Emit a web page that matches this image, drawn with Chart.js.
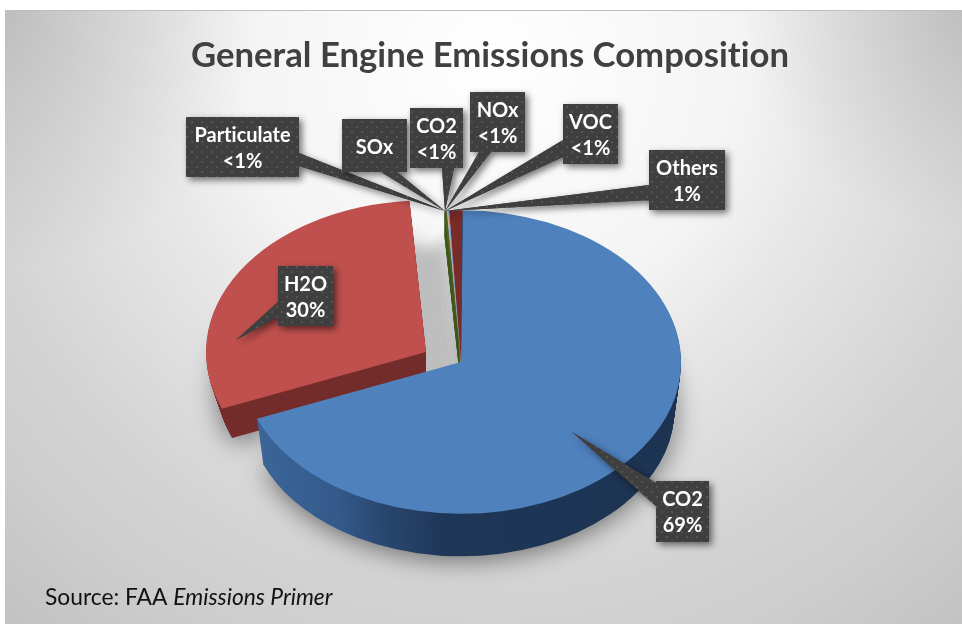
<!DOCTYPE html>
<html>
<head>
<meta charset="utf-8">
<title>General Engine Emissions Composition</title>
<script src="https://cdn.jsdelivr.net/npm/chart.js@4"></script>
<style>
  html, body { margin: 0; padding: 0; background: #fff; }
  canvas { display: block; }
</style>
</head>
<body>
<canvas id="chart" width="962" height="624"></canvas>
<script>
var categories = ['CO2', 'H2O', 'Particulate', 'SOx', 'CO2', 'NOx', 'VOC', 'Others'];
var emissions = [69, 30, 0.15, 0.03, 0.03, 0.05, 0.08, 1];
var shareLabels = ['69%', '30%', '<1%', '', '<1%', '<1%', '<1%', '1%'];
var sliceColors = ['#4f81bd', '#c0504d', '#4f6228', '#8064a2', '#4bacc6', '#f79646', '#5b9bd5', '#772c2a'];
var wallColors = ['#1c3352', '#742d2c', '#3f5a1c', '#4d3b62', '#276a7c', '#b66d31', '#2c4d75', '#5a1f1e'];

// pie placement on the page
var centerX = 461, centerY = 362, tilt = 0.69;
var sliceShift = [[0, 0], [-35, -10], [0, 0], [0, 0], [0, 0], [0, 0], [0, 0], [0, 0]];
var sliceDepth = [47, 32, 26, 0, 0, 0, 0, 0];
var sliceShrink = [0.03, 0.05, 0, 0, 0, 0, 0, 0];
var backSlices = [2, 3, 4, 5, 6, 7];

// callout boxes: x, y, w, h, tail base points and tip
var callouts = [
  { box: [656, 481, 53, 61], tail: [[656, 483], [656, 506], [572, 432]] },
  { box: [278, 266, 55, 60], tail: [[278, 302], [278, 317], [236, 340]] },
  { box: [186, 117, 113, 60], tail: [[299, 153], [299, 166], [445, 211]] },
  { box: [342, 119, 65, 53], tail: [[381, 172], [397, 172], [445, 211]] },
  { box: [410, 108, 53, 60], tail: [[442, 168], [454, 168], [445, 211]] },
  { box: [470, 92, 55, 60], tail: [[479, 152], [491, 152], [445, 211]] },
  { box: [563, 104, 55, 60], tail: [[563, 140], [563, 157], [445, 211]] },
  { box: [649, 150, 76, 60], tail: [[649, 185], [649, 200], [445, 211]] }
];

function cornerShade(ctx, x, y, r, alpha) {
  var g = ctx.createRadialGradient(x, y, 0, x, y, r);
  g.addColorStop(0, 'rgba(0,0,0,' + alpha + ')');
  g.addColorStop(1, 'rgba(0,0,0,0)');
  ctx.fillStyle = g;
  ctx.fillRect(0, 0, 962, 624);
}

function drawBackground(ctx) {
  ctx.save();
  ctx.fillStyle = '#ffffff';
  ctx.fillRect(0, 0, 962, 624);
  ctx.beginPath();
  ctx.rect(5, 10, 957, 614);
  ctx.clip();
  var g = ctx.createRadialGradient(490, 60, 0, 490, 60, 740);
  g.addColorStop(0, '#ffffff');
  g.addColorStop(0.34, '#f4f4f4');
  g.addColorStop(0.47, '#e7e7e7');
  g.addColorStop(0.72, '#d3d3d3');
  g.addColorStop(0.83, '#cecece');
  g.addColorStop(1, '#c2c2c2');
  ctx.fillStyle = g;
  ctx.fillRect(0, 0, 962, 624);
  cornerShade(ctx, 5, 10, 260, 0.12);
  cornerShade(ctx, 962, 10, 220, 0.12);
  ctx.restore();
  ctx.fillStyle = '#bfbfbf';
  ctx.fillRect(5, 10, 957, 1);
}

function drawSlice(ctx, el, i, dy, fill, noShift) {
  var saved = el.options;
  var shift = noShift ? [0, 0] : sliceShift[i];
  var s = 1 - sliceShrink[i] * dy / (sliceDepth[i] || 1);
  ctx.save();
  ctx.translate(centerX + shift[0], centerY + shift[1] + dy);
  ctx.scale(s, tilt * s);
  ctx.translate(-el.x, -el.y);
  el.options = Object.assign({}, saved, { backgroundColor: fill || saved.backgroundColor, borderWidth: 0 });
  el.draw(ctx);
  el.options = saved;
  ctx.restore();
}

function wallFill(ctx, el, i) {
  if (i !== 0) return wallColors[i];
  var g = ctx.createLinearGradient(el.x - 210, 0, el.x + 220, 0);
  g.addColorStop(0, '#3c6699');
  g.addColorStop(0.2, '#335a8a');
  g.addColorStop(0.3, '#294870');
  g.addColorStop(0.45, '#1f3757');
  g.addColorStop(1, wallColors[0]);
  return g;
}

function drawWall(ctx, el, i) {
  var fill = wallFill(ctx, el, i);
  for (var dy = sliceDepth[i]; dy > 0; dy--) {
    drawSlice(ctx, el, i, dy, fill);
  }
}

// draws the tilted pie with its side walls and floor shadow
var pie3d = {
  id: 'pie3d',
  beforeDraw: function(chart) {
    drawBackground(chart.ctx);
    chart.ctx.textRendering = 'optimizeSpeed';
  },
  beforeDatasetsDraw: function(chart) {
    var ctx = chart.ctx;
    var arcs = chart.getDatasetMeta(0).data;
    var i;

    ctx.save();
    ctx.shadowColor = 'rgba(0,0,0,0.5)';
    ctx.shadowBlur = 26;
    ctx.shadowOffsetY = 4;
    for (i = 0; i < 2; i++) {
      drawSlice(ctx, arcs[i], i, sliceDepth[i], '#9a9a9a');
    }
    ctx.restore();

    // floor shadow, with the pulled-out slice also shaded at its resting place
    ctx.save();
    ctx.filter = 'blur(7px)';
    for (i = 0; i < arcs.length; i++) {
      drawSlice(ctx, arcs[i], i, 28, '#bebebe', true);
    }
    ctx.restore();

    drawWall(ctx, arcs[1], 1);
    drawSlice(ctx, arcs[1], 1, 0);
    backSlices.forEach(function(i) {
      drawWall(ctx, arcs[i], i);
    });
    backSlices.forEach(function(i) {
      drawSlice(ctx, arcs[i], i, 0);
    });
    drawWall(ctx, arcs[0], 0);
    drawSlice(ctx, arcs[0], 0, 0);
    return false;
  },
  afterDraw: function(chart) {
    var ctx = chart.ctx;
    var pattern = dotPattern(ctx);
    [2, 3, 4, 5, 6, 7, 1, 0].forEach(function(i) {
      drawCallout(ctx, callouts[i], categories[i], shareLabels[i], pattern);
    });
    drawSource(ctx);
  }
};

function dotPattern(ctx) {
  var tile = document.createElement('canvas');
  tile.width = 10;
  tile.height = 10;
  var t = tile.getContext('2d');
  t.fillStyle = '#3f3f3f';
  t.fillRect(0, 0, 10, 10);
  t.fillStyle = '#545454';
  t.fillRect(1, 1, 2, 2);
  t.fillRect(6, 6, 2, 2);
  return ctx.createPattern(tile, 'repeat');
}

function drawCallout(ctx, c, name, share, pattern) {
  var b = c.box, tail = c.tail;
  ctx.save();
  ctx.beginPath();
  ctx.rect(b[0], b[1], b[2], b[3]);
  ctx.moveTo(tail[0][0], tail[0][1]);
  ctx.lineTo(tail[2][0], tail[2][1]);
  ctx.lineTo(tail[1][0], tail[1][1]);
  ctx.closePath();
  ctx.shadowColor = 'rgba(0,0,0,0.55)';
  ctx.shadowBlur = 7;
  ctx.shadowOffsetX = 3;
  ctx.shadowOffsetY = 3;
  ctx.fillStyle = '#3f3f3f';
  ctx.fill('nonzero');
  ctx.shadowColor = 'transparent';
  ctx.fillStyle = pattern;
  ctx.fill('nonzero');
  ctx.restore();

  ctx.save();
  ctx.fillStyle = '#ffffff';
  ctx.font = 'bold 20px Lato';
  ctx.textAlign = 'center';
  ctx.textBaseline = 'middle';
  var mid = b[0] + b[2] / 2;
  if (share) {
    ctx.fillText(name, mid, b[1] + 19);
    ctx.fillText(share, mid, b[1] + 45);
  } else {
    ctx.fillText(name, mid, b[1] + b[3] / 2 + 2);
  }
  ctx.restore();
}

function drawSource(ctx) {
  ctx.save();
  ctx.fillStyle = '#111111';
  ctx.textBaseline = 'alphabetic';
  ctx.font = '22.8px Lato';
  var lead = 'Source: FAA ';
  ctx.fillText(lead, 45, 605);
  var w = ctx.measureText(lead).width;
  ctx.font = 'italic 22.8px Lato';
  ctx.fillText('Emissions Primer', 45 + w, 605);
  ctx.restore();
}

new Chart(document.getElementById('chart'), {
  type: 'pie',
  data: {
    labels: categories,
    datasets: [{
      data: emissions,
      backgroundColor: sliceColors,
      borderWidth: 0,
      radius: 220
    }]
  },
  options: {
    responsive: false,
    animation: false,
    rotation: 0.5,
    layout: { padding: { left: 18 } },
    plugins: {
      legend: { display: false },
      tooltip: { enabled: false },
      title: {
        display: true,
        text: 'General Engine Emissions Composition',
        color: '#404040',
        font: { family: 'Lato', size: 34.7, weight: 'bold' },
        padding: { top: 35, bottom: 10 }
      }
    }
  },
  plugins: [pie3d]
});
</script>
</body>
</html>
